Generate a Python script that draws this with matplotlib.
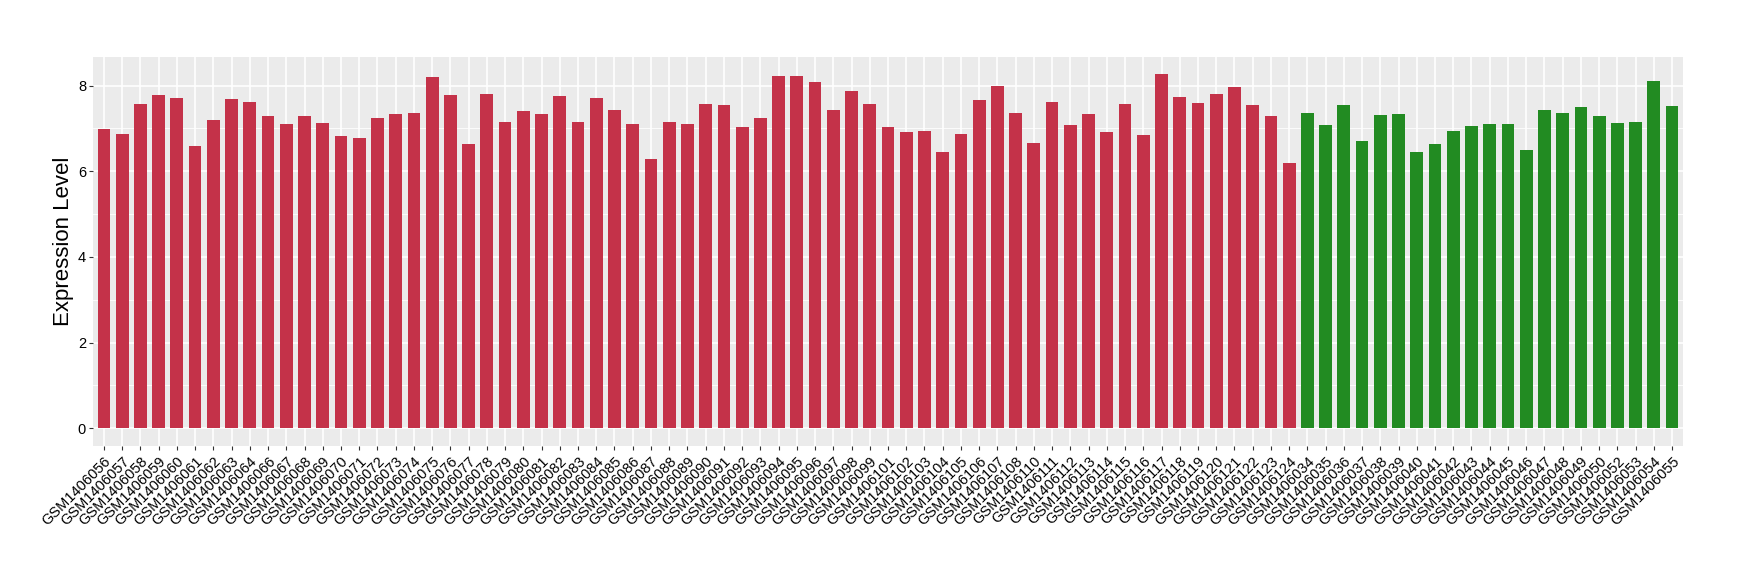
import matplotlib
matplotlib.use("Agg")
import matplotlib.pyplot as plt
from matplotlib.ticker import MultipleLocator

samples_red = ["GSM1406056","GSM1406057","GSM1406058","GSM1406059","GSM1406060","GSM1406061",
               "GSM1406062","GSM1406063","GSM1406064","GSM1406066","GSM1406067","GSM1406068",
               "GSM1406069","GSM1406070","GSM1406071","GSM1406072","GSM1406073","GSM1406074",
               "GSM1406075","GSM1406076","GSM1406077","GSM1406078","GSM1406079","GSM1406080",
               "GSM1406081","GSM1406082","GSM1406083","GSM1406084","GSM1406085","GSM1406086",
               "GSM1406087","GSM1406088","GSM1406089","GSM1406090","GSM1406091","GSM1406092",
               "GSM1406093","GSM1406094","GSM1406095","GSM1406096","GSM1406097","GSM1406098",
               "GSM1406099","GSM1406101","GSM1406102","GSM1406103","GSM1406104","GSM1406105",
               "GSM1406106","GSM1406107","GSM1406108","GSM1406110","GSM1406111","GSM1406112",
               "GSM1406113","GSM1406114","GSM1406115","GSM1406116","GSM1406117","GSM1406118",
               "GSM1406119","GSM1406120","GSM1406121","GSM1406122","GSM1406123","GSM1406124"]
values_red = [6.98, 6.87, 7.57, 7.77, 7.70, 6.59, 7.19, 7.68, 7.61, 7.29, 7.10, 7.29,
              7.12, 6.82, 6.77, 7.24, 7.33, 7.36, 8.19, 7.77, 6.63, 7.80, 7.15, 7.40,
              7.33, 7.75, 7.15, 7.70, 7.43, 7.10, 6.28, 7.15, 7.10, 7.57, 7.54, 7.03,
              7.24, 8.22, 8.22, 8.08, 7.43, 7.87, 7.57, 7.03, 6.91, 6.94, 6.45, 6.87,
              7.66, 7.98, 7.36, 6.66, 7.61, 7.08, 7.33, 6.91, 7.57, 6.84, 8.26, 7.73,
              7.59, 7.80, 7.96, 7.54, 7.29, 6.19]

samples_green = ["GSM1406034","GSM1406035","GSM1406036","GSM1406037","GSM1406038","GSM1406039",
                 "GSM1406040","GSM1406041","GSM1406042","GSM1406043","GSM1406044","GSM1406045",
                 "GSM1406046","GSM1406047","GSM1406048","GSM1406049","GSM1406050","GSM1406052",
                 "GSM1406053","GSM1406054","GSM1406055"]
values_green = [7.36, 7.08, 7.54, 6.70, 7.31, 7.33, 6.45, 6.63, 6.94, 7.05, 7.10, 7.10,
                6.49, 7.43, 7.36, 7.50, 7.29, 7.12, 7.15, 8.10, 7.52]

red = "#C43249"
green = "#228B22"

plt.rcParams['font.family'] = ['Liberation Sans', 'DejaVu Sans']

fig = plt.figure(figsize=(17.4, 5.8), dpi=100)
ax = fig.add_axes([93/1740, 1 - 446/580, (1683-93)/1740, (446-56.7)/580])

labels = samples_red + samples_green
values = values_red + values_green
colors = [red]*len(samples_red) + [green]*len(samples_green)
x = list(range(1, len(labels)+1))

ax.set_facecolor("#EBEBEB")
ax.bar(x, values, width=0.7, color=colors, zorder=3)

n = len(labels)
ax.set_xlim(0.4, n + 0.6)
ymax = max(values)
ax.set_ylim(-0.05*ymax, ymax*1.05)

ax.set_xticks(x)
ax.set_xticklabels(labels, rotation=45, ha="right", va="top", rotation_mode="anchor",
                   fontsize=10.5, color="black")
ax.yaxis.set_major_locator(MultipleLocator(2))
ax.yaxis.set_minor_locator(MultipleLocator(1))
ax.tick_params(axis="y", which="major", labelsize=10.5, labelcolor="black", length=3,
               color="#333333", width=0.8, pad=2)
ax.tick_params(axis="y", which="minor", length=0)
ax.tick_params(axis="x", length=3, color="#333333", width=0.8, pad=3)

ax.grid(True, which="major", color="white", linewidth=1.2, zorder=0)
ax.grid(True, which="minor", axis="y", color="white", linewidth=0.6, zorder=0)
ax.set_axisbelow(True)
for s in ax.spines.values():
    s.set_visible(False)

ax.set_ylabel("Expression Level", fontsize=16, color="black")
ax.yaxis.set_label_coords(-19/1590, 0.525)

fig.savefig("out.png", dpi=100, facecolor="white")
